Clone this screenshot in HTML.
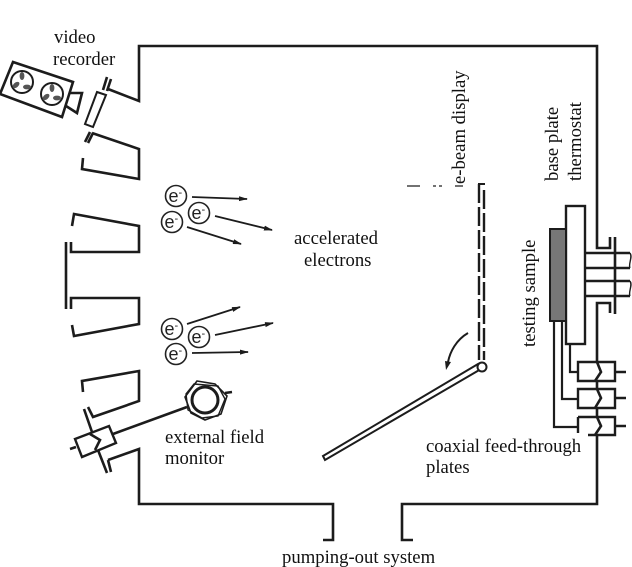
<!DOCTYPE html>
<html><head><meta charset="utf-8"><style>
html,body{margin:0;padding:0;background:#fff}
svg{display:block}
text{font-family:"Liberation Serif",serif;font-size:18.7px;fill:#111}
text.e{font-family:"Liberation Sans",sans-serif;font-size:18px;fill:#222}
.l{fill:none;stroke:#1c1c1c;stroke-width:2.6;stroke-linejoin:miter}
.t{fill:none;stroke:#1c1c1c;stroke-width:1.4}
</style></head><body>
<svg width="632" height="567" viewBox="0 0 632 567" xmlns="http://www.w3.org/2000/svg">
<defs><marker id="a" markerWidth="9" markerHeight="6" refX="8" refY="3" orient="auto" markerUnits="userSpaceOnUse"><path d="M0 0.5L9 3L0 5.5Z" fill="#1c1c1c"/></marker></defs>
<!-- chamber wall -->
<path class="l" d="M108 89L139 101V46H597V248H610V237M615 237V314M610 313V303H597V504H402V540H413M323 540H333V504H139V449L108 460"/>
<!-- top-left slits and window -->
<path class="l" d="M107 77L103 90M111 79L107 91M90 132L85 142M93 133L88 143"/>
<path fill="#fff" stroke="#1c1c1c" stroke-width="2" d="M97 92L106 95L93 127L85 124Z"/>
<path class="l" d="M92 133L139 149V179L82 169L83 158"/>
<!-- camera -->
<path class="l" d="M13 62L73 82L62 117L0 94Z"/>
<path class="l" d="M70 93L82 93L77 113L66 106"/>
<circle cx="22" cy="82" r="11" fill="none" stroke="#1c1c1c" stroke-width="2"/><circle cx="52" cy="94" r="11" fill="none" stroke="#1c1c1c" stroke-width="2"/>
<g fill="#555"><ellipse cx="22" cy="76" rx="2.4" ry="4"/><ellipse cx="16" cy="85" rx="2.4" ry="4" transform="rotate(50 16 85)"/><ellipse cx="27" cy="87" rx="4" ry="2.4"/>
<ellipse cx="52" cy="88" rx="2.4" ry="4"/><ellipse cx="46" cy="97" rx="2.4" ry="4" transform="rotate(50 46 97)"/><ellipse cx="57" cy="98" rx="4" ry="2.4"/></g>
<!-- left blocks -->
<path class="l" d="M72 226L74 214L139 226V252H71V242"/>
<path class="l" d="M66 242V309"/>
<path class="l" d="M71 309V298H139V324L74 336L72 325"/>
<path class="l" d="M83 392L82 381L139 371V401L93 417L88 407M84 409L92 432M98 450L107 473M108 460L111 472"/>
<!-- monitor coupler -->
<path fill="#fff" stroke="#1c1c1c" stroke-width="2.4" d="M75 439L109 426L116 443L82 457Z"/>
<path class="l" d="M90 434L100 440L95 450M70 449L76 447M113 434L187 407"/>
<path fill="#fff" stroke="#1c1c1c" stroke-width="1.6" d="M197 381L215 384L227 396L221 414L205 420L191 413L185 397Z"/>
<path class="t" d="M194 384L218 386L225 399L218 416L202 418L188 410L186 394Z"/>
<circle cx="205" cy="400" r="13" fill="#fff" stroke="#1c1c1c" stroke-width="3"/>
<path class="l" d="M225 393L232 392"/>
<!-- electrons -->
<g fill="none" stroke="#222" stroke-width="1.6"><circle cx="176" cy="196" r="10.5"/><circle cx="199" cy="213" r="10.5"/><circle cx="172" cy="222" r="10.5"/><circle cx="172" cy="329" r="10.5"/><circle cx="199" cy="337" r="10.5"/><circle cx="176" cy="354" r="10.5"/></g>
<text class="e" x="168.5" y="202">e<tspan font-size="11" dy="-6">-</tspan></text>
<text class="e" x="191.5" y="219">e<tspan font-size="11" dy="-6">-</tspan></text>
<text class="e" x="164.5" y="228">e<tspan font-size="11" dy="-6">-</tspan></text>
<text class="e" x="164.5" y="335">e<tspan font-size="11" dy="-6">-</tspan></text>
<text class="e" x="191.5" y="343">e<tspan font-size="11" dy="-6">-</tspan></text>
<text class="e" x="168.5" y="360">e<tspan font-size="11" dy="-6">-</tspan></text>
<g stroke="#1c1c1c" stroke-width="1.8"><line x1="192" y1="197" x2="247" y2="199" marker-end="url(#a)"/><line x1="215" y1="216" x2="272" y2="230" marker-end="url(#a)"/><line x1="187" y1="227" x2="241" y2="244" marker-end="url(#a)"/><line x1="187" y1="324" x2="240" y2="307" marker-end="url(#a)"/><line x1="215" y1="335" x2="273" y2="323" marker-end="url(#a)"/><line x1="192" y1="353" x2="248" y2="352" marker-end="url(#a)"/></g>
<!-- display -->
<path fill="none" stroke="#1c1c1c" stroke-width="2" d="M478 184H485"/>
<path fill="none" stroke="#1c1c1c" stroke-width="2.4" stroke-dasharray="19 4" d="M479 184V360M484 190V360"/>
<path fill="#fff" stroke="#1c1c1c" stroke-width="2" d="M323 456L478 364L481 369L325 460Z"/>
<circle cx="482" cy="367" r="4.5" fill="#fff" stroke="#1c1c1c" stroke-width="2"/>
<path fill="none" stroke="#1c1c1c" stroke-width="2" d="M468 333C456 340 450 352 448 362"/>
<path fill="#1c1c1c" d="M445 361L451 362L446 370Z"/>
<path fill="none" stroke="#444" stroke-width="1.4" d="M407 186H420M433 186H436M439 186H442M455 186H463"/>
<!-- sample, plate, tubes -->
<rect x="566" y="206" width="19" height="138" fill="#fff" stroke="#1c1c1c" stroke-width="2.4"/>
<rect x="550" y="229" width="16" height="92" fill="#777" stroke="#1c1c1c" stroke-width="2"/>
<path class="l" d="M585 253H630M585 268H630M585 281H630M585 296H630"/>
<path class="t" d="M630 253C633 257 628 264 630 268M630 281C633 285 628 292 630 296"/>
<!-- coaxial -->
<path class="l" d="M554 321V427H578M562 321V399H578M570 344V372H578" style="stroke-width:2.2"/>
<g fill="#fff" stroke="#1c1c1c" stroke-width="2.4">
<path d="M578 362H615V381H578Z"/><path d="M578 389H615V408H578Z"/><path d="M578 417H615V435H588M578 417V433"/></g>
<path class="l" d="M597 362L601 372L595 381M597 389L601 398L595 408M597 417L601 426L595 435M615 372H626M615 398H626M615 426H626"/>
<!-- labels -->
<text x="54" y="43">video</text>
<text x="53" y="65">recorder</text>
<text x="294" y="244">accelerated</text>
<text x="304" y="266">electrons</text>
<text x="165" y="443">external field</text>
<text x="165" y="464">monitor</text>
<text x="426" y="452">coaxial feed-through</text>
<text x="426" y="473">plates</text>
<text x="282" y="563">pumping-out system</text>
<text transform="translate(465,184) rotate(-90)">e-beam display</text>
<text transform="translate(558,181) rotate(-90)">base plate</text>
<text transform="translate(581,181) rotate(-90)">thermostat</text>
<text transform="translate(535,347) rotate(-90)">testing sample</text>
</svg>
</body></html>
